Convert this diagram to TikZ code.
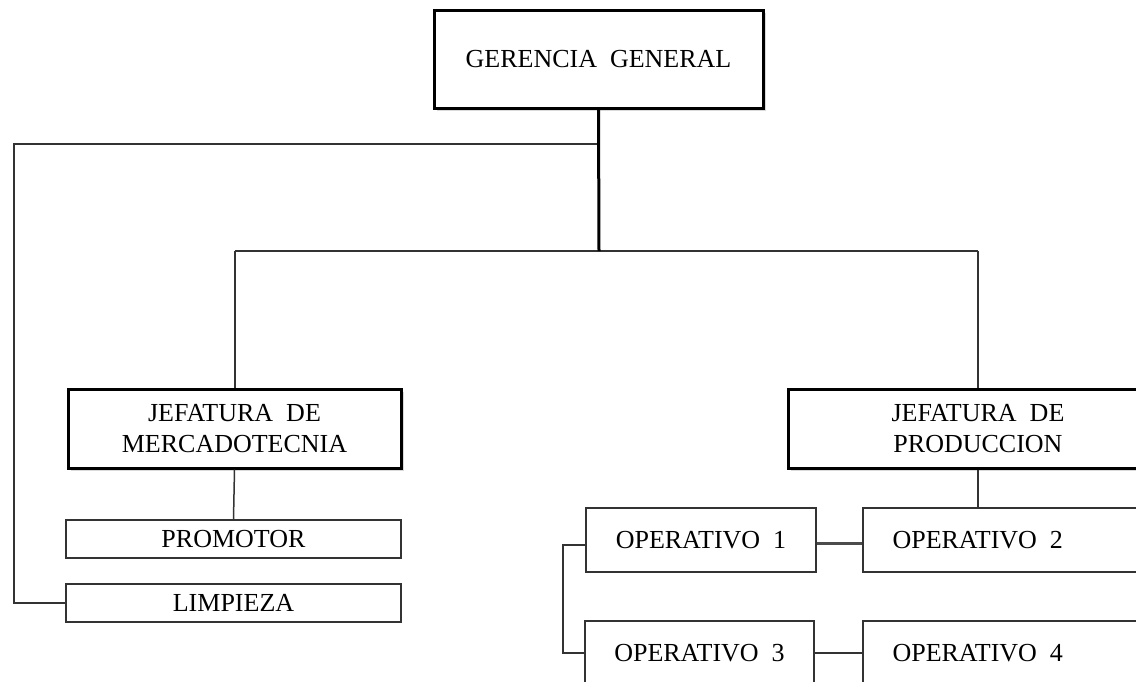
\documentclass[tikz,border=0pt]{standalone}
\usepackage{fontspec}
\setmainfont{Liberation Serif}
\usetikzlibrary{shadows}
\begin{document}
\begin{tikzpicture}[x=1pt,y=-1pt,
  every node/.style={font=\fontsize{26}{31}\selectfont, align=center, inner sep=0pt},
  bigbox/.style={draw=black, line width=3pt, fill=white, rectangle,
     drop shadow={opacity=0.3, shadow xshift=2.5pt, shadow yshift=-2.5pt}},
  smallbox/.style={draw=black!80, line width=1.5pt, fill=white, rectangle},
  conn/.style={draw=black!80, line width=1.5pt},
  thickconn/.style={draw=black, line width=3pt}]
\useasboundingbox (0,0) rectangle (1136,681);
\clip (0,0) rectangle (1136,681);
% nodes
\node[bigbox, minimum width=329, minimum height=98] (gg) at (598.5,59) {GERENCIA\ \ GENERAL};
\node[bigbox, minimum width=333, minimum height=79] (jm) at (234.5,428.5) {JEFATURA\ \ DE\\MERCADOTECNIA};
\node[bigbox, minimum width=380, minimum height=79] (jp) at (978,428.5) {JEFATURA\ \ DE\\PRODUCCION};
\node[smallbox, minimum width=335, minimum height=38] (prom) at (233.5,539) {PROMOTOR};
\node[smallbox, minimum width=335, minimum height=38] (limp) at (233.5,603) {LIMPIEZA};
\node[smallbox, minimum width=230, minimum height=64] (op1) at (701,540) {OPERATIVO\ \ 1};
\node[smallbox, anchor=west, minimum height=64] (op2) at (862,540) {\makebox[300pt][l]{\makebox[230pt]{OPERATIVO\ \ 2}}};
\node[smallbox, minimum width=229, minimum height=64] (op3) at (699.5,653) {OPERATIVO\ \ 3};
\node[smallbox, anchor=west, minimum height=64] (op4) at (862,653) {\makebox[300pt][l]{\makebox[230pt]{OPERATIVO\ \ 4}}};
% helper coordinates
\coordinate (hub) at (599,251);
\coordinate (lt) at (599,144);
\coordinate (lc) at (14,144);
\coordinate (hl) at (235,251);
\coordinate (hr) at (978,251);
\coordinate (bk) at (563,545);
% connectors
\draw[conn] (lt) -- (lc) |- (limp.west);
\draw[conn] (hl) -- (hr);
\draw[conn] (hl) -- (jm.north -| hl);
\draw[conn] (hr) -- (jp.north -| hr);
\draw[thickconn] (gg.south) -- (hub);
\draw[conn] (jm.south) -- (prom.north);
\draw[conn] (jp.south) -- (op2.north -| jp.south);
\draw[draw=black!70, line width=3pt] (op1.east |- 0,543) -- (op2.west |- 0,543);
\draw[conn] (op3.east) -- (op4.west);
\draw[conn] (op1.west |- bk) -- (bk) |- (op3.west);
\end{tikzpicture}
\end{document}
